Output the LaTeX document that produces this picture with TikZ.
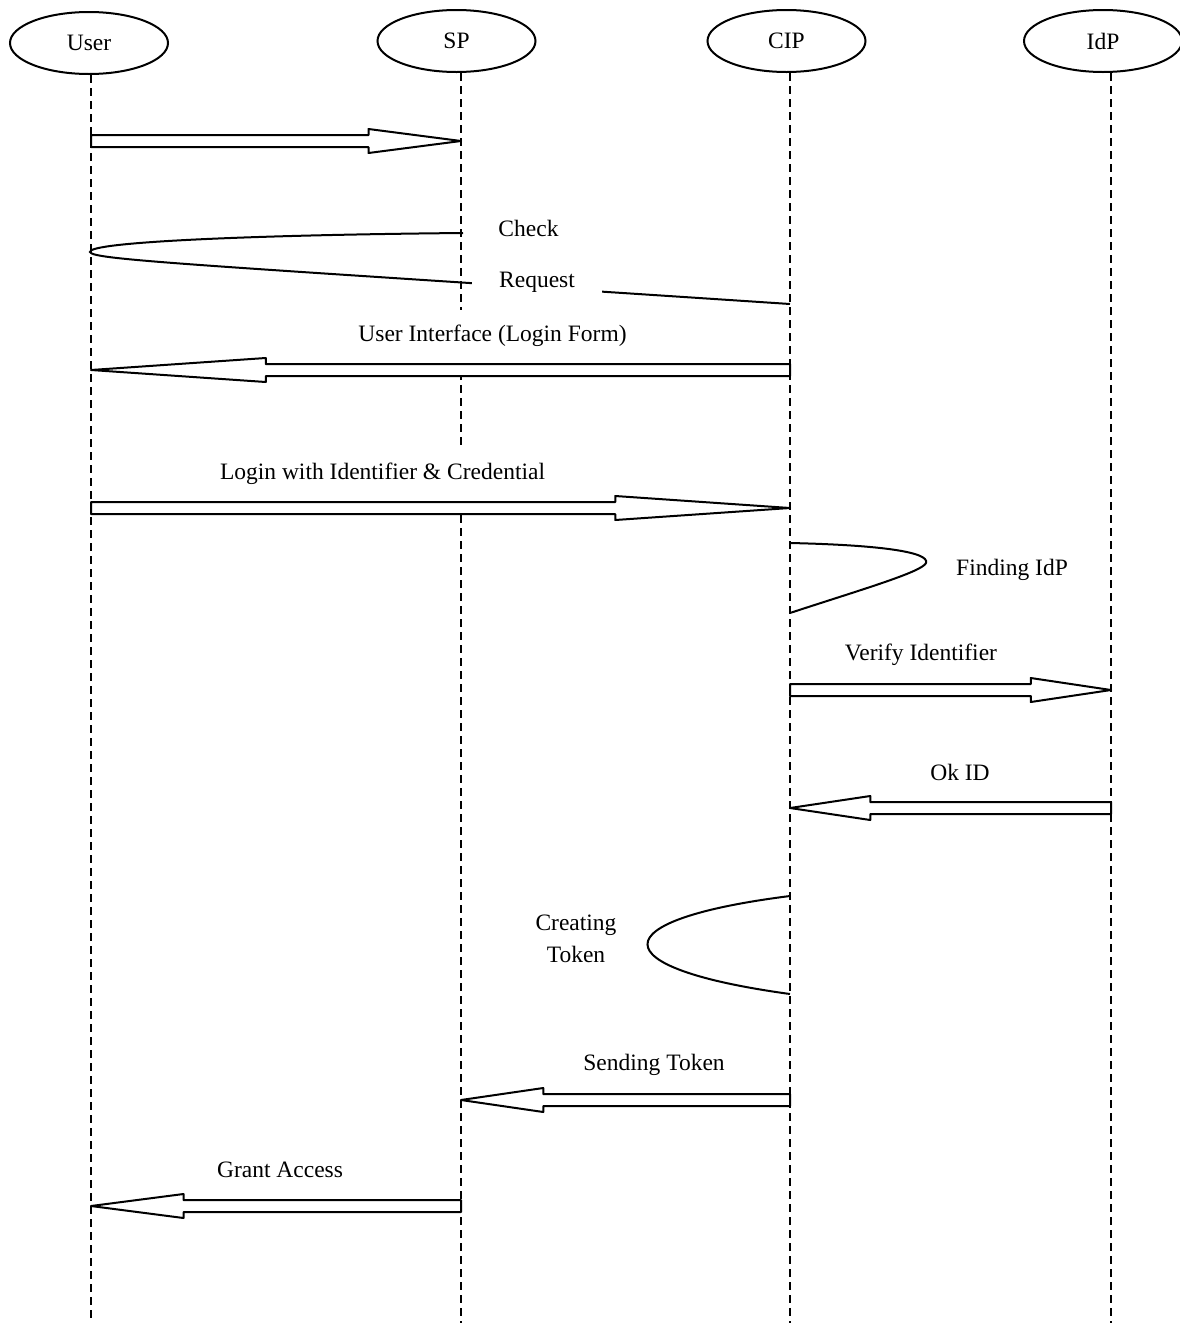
\documentclass[tikz,border=0pt]{standalone}
\usepackage{fontspec}
\setmainfont{Liberation Serif}
\usetikzlibrary{shapes.geometric,calc}
\newcommand\hollowarrow[2]{\draw[blockmsg] let \p1=(#1), \p2=(#2), \p3=($(#1)!0.75!(#2)$) in
  (\x1,\y1+6pt) -- (\x3,\y1+6pt) -- (\x3,\y1+12pt) -- (\p2) -- (\x3,\y1-12pt) -- (\x3,\y1-6pt) -- (\x1,\y1-6pt) -- cycle;}
\begin{document}
\begin{tikzpicture}[x=1pt,y=-1pt,
  actor/.style={draw, ellipse, line width=2pt, minimum width=158pt, minimum height=62pt, inner sep=0pt, font=\fontsize{23.5}{28}\selectfont},
  life/.style={dash pattern=on 8pt off 5pt, line width=1.6pt},
  blockmsg/.style={draw, fill=white, line width=2pt, line join=round},
  selfmsg/.style={line width=2pt},
  lbl/.style={inner xsep=27pt, inner ysep=16pt, text height=16pt, text depth=5pt, font=\fontsize{23.5}{28}\selectfont},
  lblw/.style={lbl, fill=white},
]
\useasboundingbox (0,0) rectangle (1179,1323);
\fill[white] (0,0) rectangle (1179,1323);

% actors
\node[actor] (user) at (89,43) {User};
\node[actor] (sp) at (456.5,41) {SP};
\node[actor] (cip) at (786.5,41) {CIP};
\node[actor] (idp) at (1103,41) {IdP};

% lifeline ends
\coordinate (uEnd) at (91,1323);
\coordinate (sEnd) at (461,1323);
\coordinate (cEnd) at (790,1323);
\coordinate (iEnd) at (1111,1323);
\draw[life] (user.south -| uEnd) -- (uEnd);
\draw[life] (sp.south -| sEnd) -- (sEnd);
\draw[life] (cip.south -| cEnd) -- (cEnd);
\draw[life] (idp.south -| iEnd) -- (iEnd);

% message points
\coordinate (m1a) at (91,141);   \coordinate (m1b) at (461,141);
\coordinate (m2a) at (790,370);  \coordinate (m2b) at (91,370);
\coordinate (m3a) at (91,508);   \coordinate (m3b) at (790,508);
\coordinate (m4a) at (790,690);  \coordinate (m4b) at (1111,690);
\coordinate (m5a) at (1111,808); \coordinate (m5b) at (790,808);
\coordinate (m6a) at (790,1100); \coordinate (m6b) at (461,1100);
\coordinate (m7a) at (461,1206); \coordinate (m7b) at (91,1206);

% check / request loop
\coordinate (chkS) at (463,233);
\coordinate (chkT) at (90,252);
\coordinate (chkE) at (790,304);
\draw[selfmsg] (chkS) .. controls (250,235) and (88,242) .. (chkT)
  .. controls (92,260) and (200,265) .. (chkE);

% finding IdP
\coordinate (fS) at (790,543);
\coordinate (fT) at (926,563);
\coordinate (fE) at (790,613);
\draw[selfmsg] (fS) .. controls (880,545) and (930,552) .. (fT)
  .. controls (922,572) and (860,590) .. (fE);

% creating token
\coordinate (ctS) at (790,896);
\coordinate (ctE) at (790,994);
\draw[selfmsg] (ctS) .. controls (600,920) and (600,968) .. (ctE);

% labels
\node[lblw] (lcheck) at (528.5,231.3) {Check};
\node[lblw] (lreq) at (537,282.3) {Request};
\node[lblw] (lui) at (492.5,336.3) {User Interface (Login Form)};
\node[lblw] (llogin) at (382.5,474.3) {Login with Identifier \& Credential};
\node[lbl] (lfind) at (1012,570.3) {Finding IdP};
\node[lbl] (lverify) at (921,655.3) {Verify Identifier};
\node[lbl] (lok) at (960,775.3) {Ok ID};
\node[align=center, inner sep=0pt, font=\fontsize{23.5}{32}\selectfont] (lcreate) at (576,939) {Creating\\Token};
\node[lbl] (lsend) at (654,1065.3) {Sending Token};
\node[lbl] (lgrant) at (280,1172.3) {Grant Access};

% block arrows
\hollowarrow{m1a}{m1b}
\hollowarrow{m2a}{m2b}
\hollowarrow{m3a}{m3b}
\hollowarrow{m4a}{m4b}
\hollowarrow{m5a}{m5b}
\hollowarrow{m6a}{m6b}
\hollowarrow{m7a}{m7b}
\end{tikzpicture}
\end{document}
